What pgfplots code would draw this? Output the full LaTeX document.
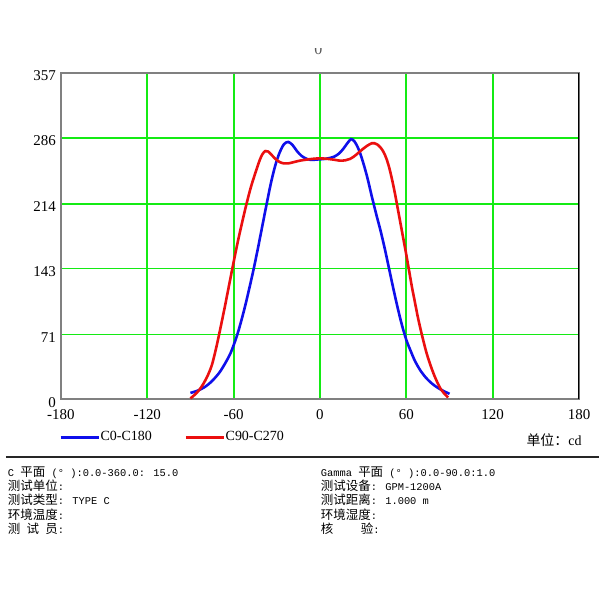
\documentclass[border=0pt]{standalone}
\usepackage{fontspec}
\setmainfont{Liberation Serif}
\newfontfamily\cjk{Noto Sans CJK SC}
\newfontfamily\mono{Liberation Mono}
\usepackage{pgfplots}
\pgfplotsset{compat=1.18}
\definecolor{gridgreen}{RGB}{20,235,20}
\definecolor{cblue}{RGB}{15,15,235}
\definecolor{cred}{RGB}{235,15,15}
\newcommand{\lat}[1]{{\mono\fontsize{5.2}{7}\selectfont #1}}
\newcommand{\info}[3]{\node[anchor=base west, inner sep=0pt, font=\fontsize{6.25}{7}\selectfont\cjk] at (#1,#2) {#3};}

\begin{document}
\begin{tikzpicture}
\path[fill=white] (0,0) rectangle (300pt,300pt);
\begin{axis}[at={(30.5pt,100pt)}, anchor=south west, scale only axis,
    width=259.5pt, height=163.5pt,
    xmin=-180, xmax=180, ymin=0, ymax=357,
    xtick={-180,-120,...,180}, ytick={0,71,143,214,286,357},
    grid=major, major grid style={gridgreen, line width=0.9pt},
    major tick length=0pt,
    axis line style={draw=gray, line width=1pt},
    tick label style={font=\fontsize{7.5}{9}\selectfont},
    /pgf/number format/assume math mode=true,
    xticklabel style={yshift=-1.5pt},
    yticklabel style={yshift=-1.5pt, xshift=1pt},
    legend columns=2,
    legend style={at={(axis description cs:-0.004,-0.116)}, anchor=west,
        draw=none, fill=none, inner sep=0pt, font=\fontsize{7}{9}\selectfont,
        nodes={inner sep=0.3pt},
        /tikz/every even column/.append style={column sep=16pt}},
    legend image code/.code={\draw[#1, line width=1.4pt] (0pt,0pt) -- (19pt,0pt);},
]
% C0-C180
\addplot[cblue, line width=1.3pt, smooth] coordinates {
(-90,7) (-85,9.5) (-80,13.5) (-75,20) (-70,29) (-66,39) (-62,51) (-58,68)
(-55,84) (-52,102) (-49,122) (-46,143) (-43,166) (-40,190) (-37,214) (-34,237)
(-31,256) (-28,270) (-25,279) (-22,281.5) (-19,278) (-16,271.5) (-13,266.5) (-10,263.5)
(-7,262) (-4,262) (0,262.5) (4,263) (7,264) (10,265.5) (13,268.5) (16,273.5)
(19,280) (21.6,284.5) (24,282) (27,273) (30,259) (33,242) (36,222) (39,203)
(42,185) (45,165) (48,143) (51,121) (54,100) (57,81) (60,65) (63,53)
(66,42) (70,31) (74,23) (78,17) (82,12.5) (86,9) (90,6)};
\addlegendentry{C0-C180}
% C90-C270
\addplot[cred, line width=1.3pt, smooth] coordinates {
(-90,1) (-87,5) (-84,10) (-81,17) (-78,26) (-75,38) (-72,57) (-69,79)
(-66,102) (-63,126) (-60,150) (-57,173) (-54,194) (-51,214) (-48,232) (-45,247)
(-42,261) (-40,268) (-38,271.5) (-36,271) (-34,268) (-31,263) (-28,259.5) (-25,258)
(-22,258) (-18,259.5) (-14,261) (-10,262) (-5,263) (0,263.5) (5,263) (10,262)
(14,261) (18,261.5) (21,263) (24,266) (27,270) (30,274) (33,277.5) (36,280)
(38,280) (40,278.5) (42,275.5) (44,271) (46,264) (48,254) (50,241) (52,226)
(54,209) (56,192) (58,175) (60,158) (62,140) (64,122) (66,106) (68,90)
(70,76) (72,63) (74,51) (76,41) (78,32) (80,24) (82,17) (84,11)
(86,7) (89,2)};
\addlegendentry{C90-C270}
\draw[black, line width=1pt] (rel axis cs:1,0) -- (rel axis cs:1,1);
\end{axis}
% title remnant
\begin{scope}
\clip (150pt,265pt) rectangle (170pt,275.8pt);
\node[anchor=base, gray!70!black, inner sep=0pt, font=\fontsize{8}{9}\selectfont] at (159.5pt,272.5pt) {0};
\end{scope}
\node[anchor=east, inner sep=0pt, font=\fontsize{7}{9}\selectfont] at (291.5pt,79.5pt) {{\cjk 单位：}cd};
\draw[line width=1pt, black!85] (3pt,71pt) -- (300pt,71pt);
\info{3.8pt}{61.6pt}{\lat{C }平面\lat{ (° ):0.0-360.0: 15.0}}
\info{3.8pt}{54.4pt}{测试单位\lat{:}}
\info{3.8pt}{47.2pt}{测试类型\lat{: TYPE C}}
\info{3.8pt}{40.0pt}{环境温度\lat{:}}
\info{3.8pt}{32.8pt}{测\lat{\ }试\lat{\ }员\lat{:}}
\info{160.5pt}{61.6pt}{\lat{Gamma }平面\lat{ (° ):0.0-90.0:1.0}}
\info{160.5pt}{54.4pt}{测试设备\lat{: GPM-1200A}}
\info{160.5pt}{47.2pt}{测试距离\lat{: 1.000 m}}
\info{160.5pt}{40.0pt}{环境湿度\lat{:}}
\info{160.5pt}{32.8pt}{核\hspace{13.75pt}验\lat{:}}
\end{tikzpicture}
\end{document}
